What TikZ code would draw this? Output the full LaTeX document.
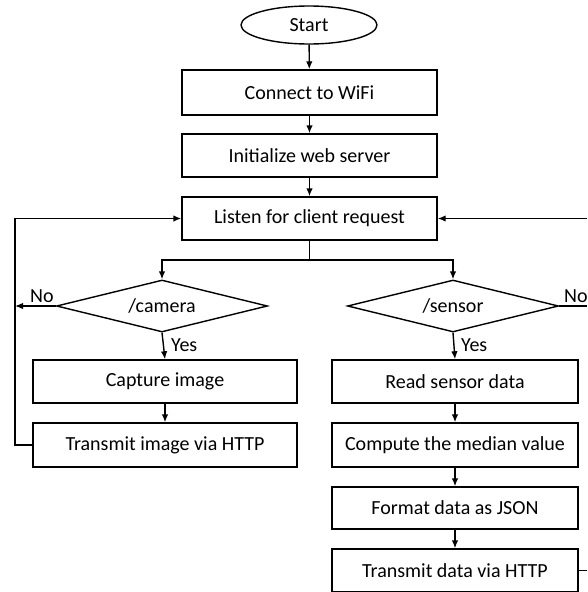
\documentclass[tikz,border=0pt]{standalone}
\usepackage{fontspec}
\setmainfont{Carlito}
\usetikzlibrary{shapes.geometric,arrows.meta}
\begin{document}
\begin{tikzpicture}[x=1pt,y=-1pt,
  every node/.style={font=\fontsize{20}{23}\selectfont},
  proc/.style={draw,line width=1.4pt,rectangle,inner sep=0pt,minimum height=43pt},
  dec/.style={draw,line width=1.4pt,diamond,aspect=4,inner sep=0pt,minimum width=211pt,minimum height=52pt},
  term/.style={draw,line width=1.4pt,ellipse,inner sep=0pt,minimum width=136pt,minimum height=38pt},
  lab/.style={inner sep=0pt,anchor=west},
  conn/.style={line width=1.4pt},
  arr/.style={line width=1.4pt,-{Latex[length=8pt,width=6.5pt]}}]
\useasboundingbox (0,0) rectangle (587,592);
\fill[white] (0,0) rectangle (587,592);
\node[term] (start) at (309,25) {Start};
\node[proc,minimum width=255pt,minimum height=45pt] (wifi) at (309.5,92.5) {Connect to WiFi};
\node[proc,minimum width=255pt] (init) at (309.5,155.5) {Initialize web server};
\node[proc,minimum width=255pt] (listen) at (309.5,218.5) {Listen for client request};
\node[dec] (cam) at (162,306) {/camera};
\node[dec] (sen) at (453,306) {/sensor};
\node[proc,minimum width=264pt] (cap) at (165,381.5) {Capture image};
\node[proc,minimum width=264pt,minimum height=44pt] (timg) at (165,445) {Transmit image via HTTP};
\node[proc,minimum width=246pt] (read) at (455,381.5) {Read sensor data};
\node[proc,minimum width=246pt,minimum height=44pt] (med) at (455,445) {Compute the median value};
\node[proc,minimum width=246pt,minimum height=42pt] (json) at (455,508) {Format data as JSON};
\node[proc,minimum width=246pt] (tdat) at (455,570.5) {Transmit data via HTTP};
\coordinate (br) at (309.5,260);
\coordinate (lx) at (15,306);
\coordinate (lb) at (15,445);
\coordinate (lt) at (15,218.5);
\coordinate (rn) at (587,306);
\coordinate (rb) at (587,570.5);
\coordinate (rt) at (587,218.5);
\draw[arr] (start) -- (wifi);
\draw[arr] (wifi) -- (init);
\draw[arr] (init) -- (listen);
\draw[conn] (listen.south) -- (br);
\draw[arr] (br) -| (cam.north);
\draw[arr] (br) -| (sen.north);
\draw[arr] (cam.west) -- (lx);
\node[lab] (nol) at (30,296) {No};
\draw[arr] (cam.south) -- (cap.north);
\node[lab] (yesl) at (171,345) {Yes};
\draw[arr] (cap) -- (timg);
\draw[arr] (timg.west) -- (lb) -- (lt) -- (listen.west);
\draw[arr] (sen.south) -- (read.north);
\node[lab] (yesr) at (461,345) {Yes};
\draw[arr] (read) -- (med);
\draw[arr] (med) -- (json);
\draw[arr] (json) -- (tdat);
\draw[conn] (sen.east) -- (rn);
\node[lab] (nor) at (564,296) {No};
\draw[conn] (tdat.east) -- (rb);
\draw[arr] (rt) -- (listen.east);
\end{tikzpicture}
\end{document}
